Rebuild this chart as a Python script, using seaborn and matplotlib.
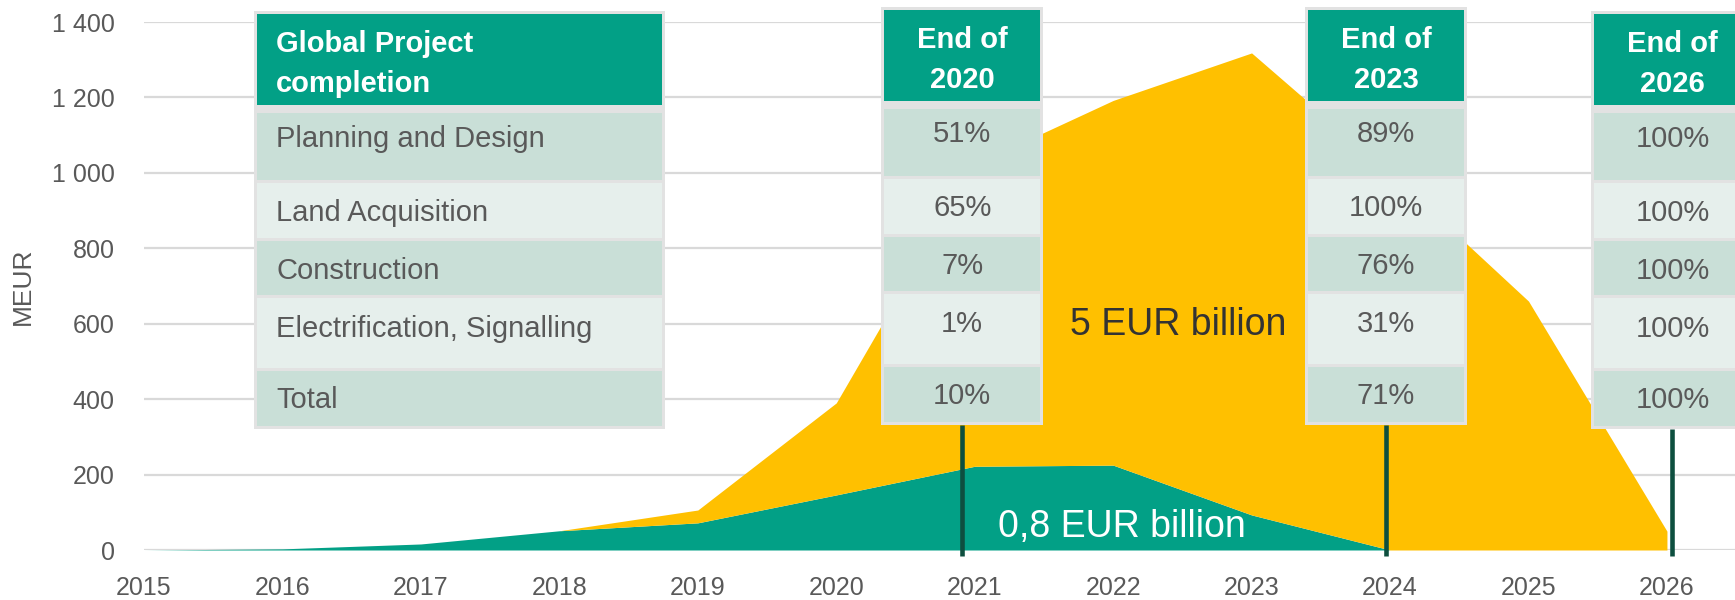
import matplotlib
matplotlib.use("Agg")
import matplotlib.pyplot as plt
import seaborn as sns
from matplotlib.patches import Rectangle
from matplotlib.ticker import FuncFormatter

# ---------------- data ----------------
years = [2015, 2016, 2017, 2018, 2019, 2020, 2021, 2022, 2023, 2024, 2025, 2026]
green_meur = [0, 3, 16, 51, 72, 146, 222, 225, 93, 0, 0, 0]          # 0,8 EUR billion
yellow_meur = [0, 0, 0, 0, 34, 244, 800, 967, 1225, 1000, 660, 50]   # 5 EUR billion (stacked on green)
yellow_label = "5 EUR billion"
green_label = "0,8 EUR billion"

y_ticks = [0, 200, 400, 600, 800, 1000, 1200, 1400]
y_axis_label = "MEUR"

table_title = ["Global Project", "completion"]
table_rows = ["Planning and Design", "Land Acquisition", "Construction",
              "Electrification, Signalling", "Total"]
milestone_titles = [["End of", "2020"], ["End of", "2023"], ["End of", "2026"]]
milestone_x = [2020.91, 2023.97, 2026.04]
milestone_pct = [
    ["51%", "65%", "7%", "1%", "10%"],
    ["89%", "100%", "76%", "31%", "71%"],
    ["100%", "100%", "100%", "100%", "100%"],
]

# ---------------- style ----------------
TEAL = "#02A086"
GOLD = "#FFC000"
DARK_ROW = "#C9DFD7"
LIGHT_ROW = "#E6EFEC"
FRAME = "#E2E2E2"
LINE = "#0E4F3F"
GREY_TXT = "#595959"

sns.set_theme(style="white")
plt.rcParams["font.family"] = ["Liberation Sans", "DejaVu Sans"]

W, H = 1735, 600
fig = plt.figure(figsize=(W / 100, H / 100), dpi=100)

ax_left_px, ax_top_px, ax_bottom_px = 144, 22, 550
x_right_year = 2015 + (W - ax_left_px) / 138.45
ax = fig.add_axes([ax_left_px / W, (H - ax_bottom_px) / H,
                   (W - ax_left_px) / W, (ax_bottom_px - ax_top_px) / H])
ax.set_xlim(2015, x_right_year)
ax.set_ylim(0, 1400)

ax.stackplot(years, green_meur, yellow_meur, colors=[TEAL, GOLD],
             linewidth=0, zorder=2, antialiased=True)

ax.set_axisbelow(True)
ax.grid(axis="y", color="#D9D9D9", linewidth=1.6)
ax.grid(axis="x", visible=False)
for s in ax.spines.values():
    s.set_visible(False)
ax.set_yticks(y_ticks)
ax.yaxis.set_major_formatter(FuncFormatter(lambda v, p: f"{int(v):,}".replace(",", " ")))
ax.set_xticks(years)
ax.tick_params(axis="both", length=0, labelsize=18, labelcolor=GREY_TXT)
ax.tick_params(axis="y", pad=21)
ax.tick_params(axis="x", pad=19)
fig.text(23 / W, 1 - 286 / H, y_axis_label, rotation=90, ha="center", va="center",
         fontsize=19, color=GREY_TXT)

ax.text(2022.47, 570, yellow_label, ha="center", va="baseline", fontsize=27,
        color="#333333", zorder=6)
ax.text(2022.06, 34, green_label, ha="center", va="baseline", fontsize=27,
        color="white", zorder=6)

# ---------------- overlay (pixel coordinates) ----------------
ov = fig.add_axes([0, 0, 1, 1])
ov.set_xlim(0, W)
ov.set_ylim(H, 0)
ov.axis("off")


def year_px(yr):
    return ax.transData.transform((yr, 0))[0]


header_box = (14, 105)
row_boxes = [(113, 180), (183, 238), (241, 295), (298, 368), (371, 426)]
header_base = [52, 92]
row_base = [147, 221, 279, 337, 408]
row_cols = [DARK_ROW, LIGHT_ROW, DARK_ROW, LIGHT_ROW, DARK_ROW]


def draw_table(x0, x1, dy, title, cells, align):
    ov.add_patch(Rectangle((x0 - 3, 11 + dy), x1 - x0 + 6, 429 - 11, color=FRAME, lw=0, zorder=3))
    ov.add_patch(Rectangle((x0, header_box[0] + dy), x1 - x0, header_box[1] - header_box[0],
                           color=TEAL, lw=0, zorder=4))
    for (t, b), c in zip(row_boxes, row_cols):
        ov.add_patch(Rectangle((x0, t + dy), x1 - x0, b - t, color=c, lw=0, zorder=4))
    if align == "left":
        tx, ha = x0 + 19, "left"
    else:
        tx, ha = (x0 + x1) / 2, "center"
    for line, yb in zip(title, header_base):
        ov.text(tx, yb + dy, line, ha=ha, va="baseline", fontsize=21, fontweight="bold",
                color="white", zorder=5)
    for txt, yb in zip(cells, row_base):
        ov.text(tx, yb + dy, txt, ha=ha, va="baseline", fontsize=21, color=GREY_TXT, zorder=5)


draw_table(257, 662, 0, table_title, table_rows, "left")

col_dy = [-4.5, -4.5, 0]
half_w = 78
for mx, title, pct, dy in zip(milestone_x, milestone_titles, milestone_pct, col_dy):
    cx = year_px(mx)
    draw_table(cx - half_w, cx + half_w, dy, title, pct, "center")
    ov.plot([cx, cx], [426 + dy + 3, 556], color=LINE, lw=3.3, solid_capstyle="butt", zorder=6)

fig.savefig("out.png", dpi=100)
